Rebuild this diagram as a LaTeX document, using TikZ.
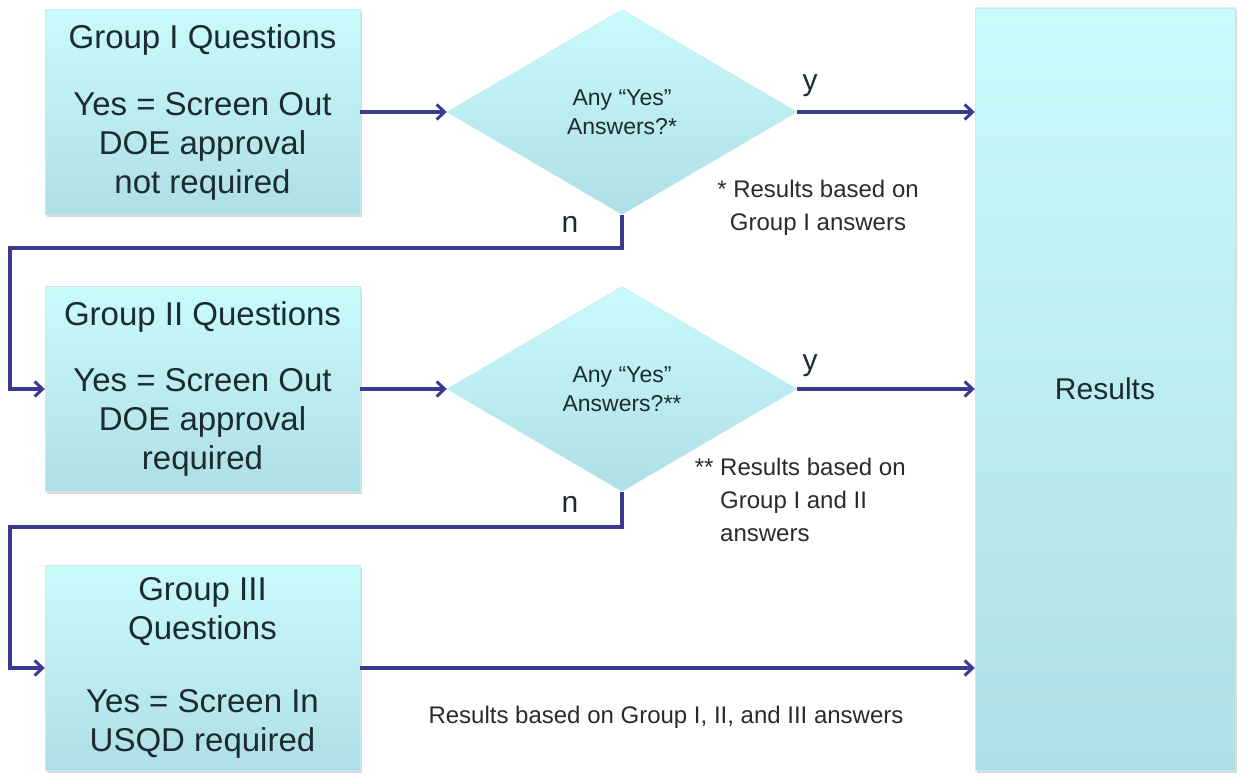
\documentclass[tikz,border=0pt]{standalone}
\usepackage{fontspec}
\setmainfont{Liberation Sans}
\usetikzlibrary{shapes.geometric,arrows.meta,shadows}
\definecolor{arrowc}{HTML}{3B3A8E}
\definecolor{boxtop}{HTML}{C9FAFC}
\definecolor{boxbot}{HTML}{AFDFE6}
\definecolor{txt}{HTML}{1C2B30}
\definecolor{notec}{HTML}{2A2A2A}
\begin{document}
\begin{tikzpicture}[x=1pt,y=-1pt,
  qbox/.style={rectangle, minimum width=315pt, minimum height=205pt,
    top color=boxtop, bottom color=boxbot, draw=boxbot!70!white, line width=0.4pt,
    drop shadow={opacity=0.3,shadow xshift=1.5pt,shadow yshift=-2.5pt},
    align=center, font=\fontsize{33}{39}\selectfont, text=txt, inner sep=0pt},
  dec/.style={diamond, minimum width=350pt, minimum height=205pt, inner sep=0pt,
    top color=boxtop, bottom color=boxbot, draw=boxbot!70!white, line width=0.4pt,
    align=center, font=\fontsize{23}{29}\selectfont, text=txt},
  arr/.style={draw=arrowc, line width=3.4pt, -{Straight Barb[length=8pt,width=15pt,line width=3pt]}},
  yn/.style={font=\fontsize{30}{34}\selectfont, text=txt, inner sep=0pt},
  note/.style={font=\fontsize{24}{33}\selectfont, text=notec, inner sep=0pt}
]
\useasboundingbox (0,0) rectangle (1241,776);

% Results box
\node[qbox, minimum width=260pt, minimum height=762pt, font=\fontsize{30}{36}\selectfont] (res) at (1105,389) {Results};

% Question boxes
\node[qbox] (b1) at (202.5,112) {Group I Questions\\[28pt]Yes = Screen Out\\DOE approval\\not required};
\node[qbox] (b2) at (202.5,389) {Group II Questions\\[27pt]Yes = Screen Out\\DOE approval\\required};
\node[qbox] (b3) at (202.5,668) {Group III\\Questions\\[34pt]Yes = Screen In\\USQD required};

% Decisions
\node[dec] (d1) at (622,112) {Any “Yes”\\Answers?*};
\node[dec] (d2) at (622,389) {Any “Yes”\\Answers?**};

% Turning points
\coordinate (t1) at (10,248);
\coordinate (t2) at (10,527);

% Connectors
\draw[arr] (b1.east) -- (d1.west);
\draw[arr] (d1.east) -- (d1.east -| res.west);
\draw[arr] (d1.south) |- (t1) |- (b2.west);
\draw[arr] (b2.east) -- (d2.west);
\draw[arr] (d2.east) -- (d2.east -| res.west);
\draw[arr] (d2.south) |- (t2) |- (b3.west);
\draw[arr] (b3.east) -- (b3.east -| res.west);

% Labels
\node[yn] (y1) at (810,86) {y};
\node[yn] (y2) at (810,366) {y};
\node[yn] (n1) at (570,224) {n};
\node[yn] (n2) at (570,504) {n};

% Notes
\node[note, align=center] (nt1) at (818,208) {* Results based on\\Group I answers};
\node[note, align=left, anchor=north west] (nt2) at (720,458) {\llap{** }Results based on\\Group I and II\\answers};
\node[note] (nt3) at (666,717) {Results based on Group I, II, and III answers};
\end{tikzpicture}
\end{document}
